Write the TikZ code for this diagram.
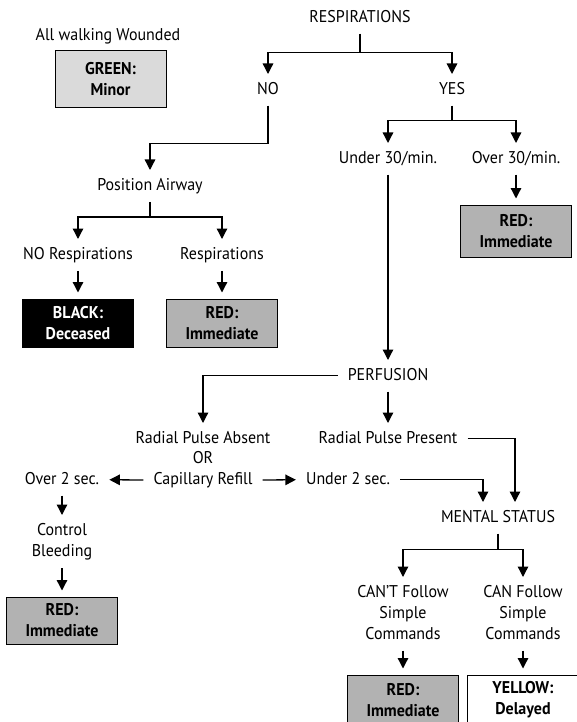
\documentclass[tikz,border=0pt]{standalone}
\usepackage{fontspec}
\setmainfont[FakeStretch=0.94]{PT Sans}
\usetikzlibrary{arrows.meta}
\definecolor{lightfill}{RGB}{218,218,218}
\definecolor{midfill}{RGB}{178,178,178}
\newcommand{\vst}{\rule[-3pt]{0pt}{15pt}}
\begin{document}
\begin{tikzpicture}[x=1pt,y=-1pt,
  lbl/.style={font=\fontsize{17}{21}\selectfont, inner xsep=10pt, inner ysep=8pt,
    anchor=north, align=center, execute at begin node=\vst},
  ln/.style={line width=1.3pt},
  arr/.style={ln, -{Triangle[length=10.5pt,width=10.5pt]}},
  tobox/.style={arr, shorten >=6pt},
  box/.style={draw, line width=1pt, minimum width=111pt, inner sep=0pt,
    font=\bfseries\fontsize{17}{21}\selectfont, align=center},
  greenbox/.style={box, fill=lightfill, minimum height=57pt},
  redbox/.style={box, fill=midfill, minimum height=48pt},
  blackbox/.style={box, fill=black, text=white, minimum height=48pt},
  yellowbox/.style={box, fill=white, minimum height=50pt}]
\useasboundingbox (0,0) rectangle (576,722);

% labels
\node[lbl] (resp) at (360,2) {RESPIRATIONS};
\node[lbl] (walk) at (108,20) {All walking Wounded};
\node[greenbox] (green) at (110.5,79.5) {GREEN:\\Minor};
\node[lbl] (no) at (268,74) {NO};
\node[lbl] (yes) at (452,74) {YES};
\node[lbl] (under) at (388,143) {Under 30/min.};
\node[lbl] (over) at (516,143) {Over 30/min.};
\node[redbox, minimum height=52pt] (redB) at (516,231) {RED:\\Immediate};
\node[lbl] (pos) at (150,170) {Position Airway};
\node[lbl] (norsp) at (78,239) {NO Respirations};
\node[lbl] (rsp) at (222,239) {Respirations};
\node[blackbox] (black) at (78,323) {BLACK:\\Deceased};
\node[redbox] (redA) at (222,323) {RED:\\Immediate};
\node[lbl] (perf) at (388,360) {PERFUSION};
\node[lbl] (absent) at (203,423) {Radial Pulse Absent};
\node[lbl] (or) at (203,443) {OR};
\node[lbl] (cap) at (203,464) {Capillary Refill};
\node[lbl] (present) at (388,423) {Radial Pulse Present};
\node[lbl] (over2) at (62,464) {Over 2 sec.};
\node[lbl] (under2) at (348,464) {Under 2 sec.};
\node[lbl] (control) at (62,515) {Control\\\vst Bleeding};
\node[redbox, minimum height=47pt] (redC) at (62,620.5) {RED:\\Immediate};
\node[lbl] (mental) at (498,502) {MENTAL STATUS};
\node[lbl] (cant) at (403,577) {CAN'T Follow\\\vst Simple\\\vst Commands};
\node[lbl] (can) at (523,577) {CAN Follow\\\vst Simple\\\vst Commands};
\node[redbox, minimum height=50pt] (redD) at (403,700) {RED:\\Immediate};
\node[yellowbox] (yellow) at (523,700) {YELLOW:\\Delayed};

% connectors
\draw[ln] (resp.south) -- ++(0,19) coordinate (j1);
\draw[arr] (j1) -| (no.north);
\draw[arr] (j1) -| (yes.north);
\draw[arr] (no.south) -- ++(0,38) -| (pos.north);
\draw[ln] (pos.south) -- ++(0,15) coordinate (j2);
\draw[arr] (j2) -| (norsp.north);
\draw[arr] (j2) -| (rsp.north);
\draw[tobox] (norsp.south) -- (black.north);
\draw[tobox] (rsp.south) -- (redA.north);
\draw[ln] (yes.south) -- ++(0,15) coordinate (j3);
\draw[arr] (j3) -| (under.north);
\draw[arr] (j3) -| (over.north);
\draw[tobox] (over.south) -- (redB.north);
\draw[arr] (under.south) -- (perf.north);
\draw[arr] (perf.west) -| (absent.north);
\draw[arr] (perf.south) -- (present.north);
\draw[arr] (present.east) -| ([xshift=17pt]mental.north);
\draw[arr] (under2.east) -| ([xshift=-15pt]mental.north);
\draw[arr] (cap.west) -- (over2.east);
\draw[arr] (cap.east) -- (under2.west);
\draw[arr] (over2.south) -- (control.north);
\draw[tobox] (control.south) -- (redC.north);
\draw[ln] (mental.south) -- ++(0,16) coordinate (j4);
\draw[arr] (j4) -| (cant.north);
\draw[arr] (j4) -| (can.north);
\draw[tobox] (cant.south) -- (redD.north);
\draw[tobox] (can.south) -- (yellow.north);
\end{tikzpicture}
\end{document}
